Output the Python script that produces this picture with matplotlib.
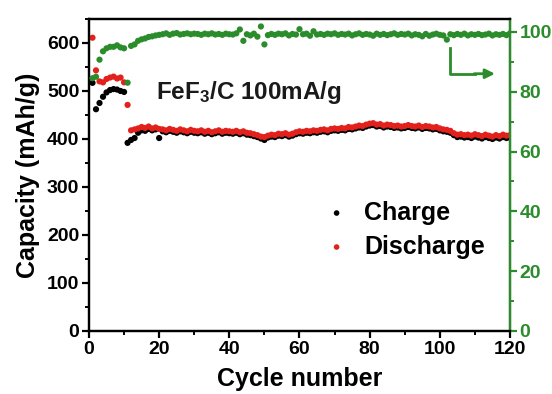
import numpy as np
import matplotlib
matplotlib.use('Agg')
import matplotlib.pyplot as plt
from matplotlib.ticker import MultipleLocator

plt.rcParams['font.family'] = ['Liberation Sans', 'DejaVu Sans']
plt.rcParams['font.weight'] = 'bold'
plt.rcParams['mathtext.fontset'] = 'custom'
plt.rcParams['mathtext.bf'] = 'Liberation Sans:bold'
plt.rcParams['mathtext.rm'] = 'Liberation Sans:bold'
plt.rcParams['mathtext.default'] = 'bf'

# cycle index
cycles = np.arange(1, 121)

# discharge capacity (mAh/g), red
discharge = [611, 543, 520, 518, 525, 528, 530, 526, 528, 518,
             471, 418, 420, 422, 425, 423, 426, 422, 424, 421,
             420, 418, 421, 419, 417, 420, 418, 416, 419, 417,
             416, 418, 415, 417, 414, 416, 418, 415, 417, 416,
             415, 417, 414, 416, 413, 412, 410, 408, 405, 404,
             407, 409, 408, 411, 410, 412, 409, 411, 414, 416,
             415, 417, 416, 418, 417, 419, 420, 418, 421, 422,
             421, 423, 422, 425, 424, 426, 428, 427, 430, 432,
             433, 430, 431, 428, 430, 429, 427, 428, 426, 427,
             429, 427, 426, 428, 425, 427, 426, 424, 425, 422,
             420, 419, 417, 412, 409, 410, 408, 409, 407, 410,
             408, 406, 409, 407, 405, 408, 406, 409, 407, 408]

# charge capacity (mAh/g), black
charge = [517, 462, 475, 488, 497, 502, 504, 503, 500, 498,
          392, 398, 402, 413, 418, 417, 421, 418, 420, 402,
          416, 414, 417, 415, 413, 416, 414, 412, 415, 413,
          412, 414, 411, 413, 410, 412, 414, 411, 413, 412,
          411, 413, 410, 412, 409, 408, 406, 404, 401, 398,
          403, 405, 404, 407, 406, 408, 405, 407, 410, 412,
          411, 413, 412, 414, 413, 415, 416, 414, 417, 418,
          417, 419, 418, 421, 420, 422, 424, 423, 426, 428,
          429, 426, 427, 424, 426, 425, 423, 424, 422, 423,
          425, 423, 422, 424, 421, 423, 422, 420, 421, 418,
          416, 415, 413, 408, 404, 405, 403, 404, 402, 405,
          403, 401, 404, 402, 400, 403, 401, 404, 402, 403]

# coulombic efficiency (%), green
efficiency = [84.5, 85.0, 90.7, 93.5, 94.5, 95.0, 95.0, 95.5, 94.8, 94.5,
              83.0, 95.3, 95.8, 97.0, 97.5, 97.8, 98.3, 98.5, 98.8, 99.0,
              99.2, 99.5, 99.0, 99.4, 99.6, 99.1, 99.3, 99.5, 99.2, 99.4,
              99.3, 99.0, 99.4, 99.2, 99.5, 99.1, 99.3, 99.0, 99.4, 99.2,
              99.1, 99.5, 100.8, 97.0, 99.2, 98.8, 99.4, 98.4, 101.8, 95.8,
              98.9, 99.3, 99.0, 99.4, 99.2, 99.5, 98.8, 99.3, 99.1, 100.9,
              99.2, 99.4, 98.7, 100.2, 99.1, 99.3, 99.0, 99.4, 99.2, 99.5,
              99.0, 99.3, 99.1, 99.4, 98.8, 99.2, 99.5, 99.0, 99.3, 99.1,
              98.7, 99.4, 99.0, 99.3, 98.9, 99.2, 99.5, 99.0, 99.3, 99.1,
              99.4, 98.8, 99.2, 99.0, 98.5, 99.3, 98.7, 99.1, 99.4, 99.0,
              98.8, 97.4, 99.2, 98.9, 99.3, 99.0, 99.4, 98.8, 99.2, 99.0,
              99.3, 98.9, 99.1, 99.4, 98.8, 99.2, 99.0, 99.3, 98.9, 99.5]

green = '#2a8c2a'
red = '#e3211c'

fig = plt.figure(figsize=(5.52, 3.94), dpi=100)
ax = fig.add_axes([0.1612, 0.1599, 0.7627, 0.7919])
ax2 = ax.twinx()

ax.scatter(cycles, charge, s=20, color='black', edgecolors='none', label='Charge', zorder=3)
ax.scatter(cycles, discharge, s=20, color=red, edgecolors='none', label='Discharge', zorder=4)
ax2.scatter(cycles, efficiency, s=20, color=green, edgecolors='none', zorder=3)

ax.set_xlim(0, 120)
ax.set_ylim(0, 650)
ax2.set_ylim(0, 104.3)

ax.xaxis.set_major_locator(MultipleLocator(20))
ax.xaxis.set_minor_locator(MultipleLocator(10))
ax.yaxis.set_major_locator(MultipleLocator(100))
ax.yaxis.set_minor_locator(MultipleLocator(50))
ax2.yaxis.set_major_locator(MultipleLocator(20))
ax2.yaxis.set_minor_locator(MultipleLocator(10))

for sp in ax.spines.values():
    sp.set_linewidth(1.6)
for sp in ax2.spines.values():
    sp.set_linewidth(1.6)
ax2.spines['right'].set_color(green)

ax.tick_params(which='major', length=5, width=1.6, labelsize=14, pad=2)
ax.tick_params(which='minor', length=3, width=1.4)
ax2.tick_params(which='major', length=5, width=1.6, labelsize=14, pad=2, colors=green)
ax2.tick_params(which='minor', length=3, width=1.4, colors=green)

ax.set_xlabel('Cycle number', fontsize=18, fontweight='bold', labelpad=7)
ax.set_ylabel('Capacity (mAh/g)', fontsize=18, fontweight='bold', labelpad=5)

ax.text(0.16, 0.745, r'FeF$_3$/C 100mA/g', transform=ax.transAxes,
        fontsize=17.5, fontweight='bold', color='#1a1a1a')

# L-shaped arrow pointing to the right axis
ax2.plot([103, 103, 110], [94.6, 86, 86], color=green, lw=2)
ax2.annotate('', xy=(116.5, 86), xytext=(109, 86),
             arrowprops=dict(arrowstyle='-|>', color=green, lw=2, mutation_scale=14))

ax.legend(loc='upper left', bbox_to_anchor=(0.505, 0.45), frameon=False,
          fontsize=18, handletextpad=0.1, labelspacing=0.4, markerscale=0.9,
          borderaxespad=0)

fig.savefig('out.png', dpi=100)
